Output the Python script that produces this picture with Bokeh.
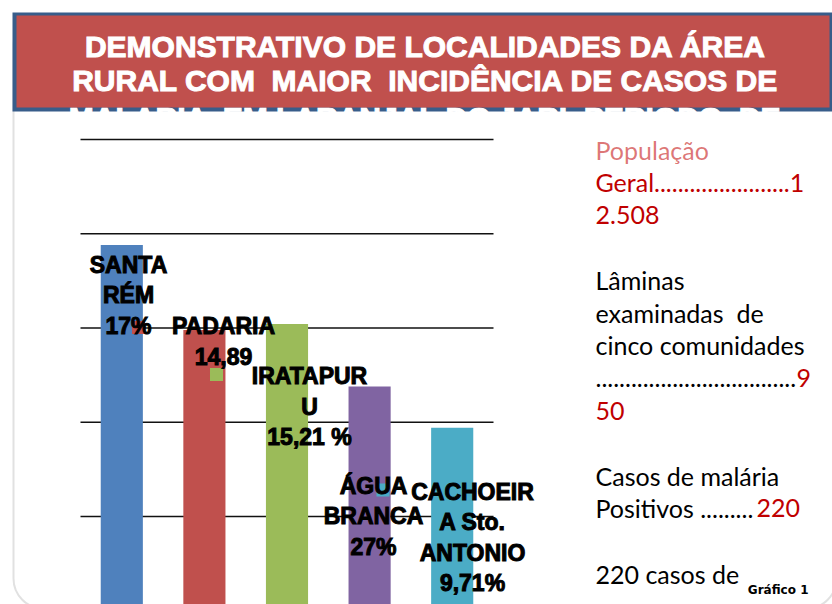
from bokeh.plotting import figure
from bokeh.models import Range1d, BoxAnnotation, ColumnDataSource
from bokeh.core.properties import value
from bokeh.embed import file_html
from bokeh.resources import INLINE

# ---------------- data ----------------
localidades = ["SANTARÉM", "PADARIA", "IRATAPURU", "ÁGUA BRANCA", "CACHOEIRA Sto. ANTONIO"]
percentuais = [19.4, 14.89, 15.21, 11.9, 9.71]
rotulos = [
    ["SANTA", "RÉM", "17%"],
    ["PADARIA", "14,89"],
    ["IRATAPUR", "U", "15,21 %"],
    ["ÁGUA", "BRANCA", "27%"],
    ["CACHOEIR", "A Sto.", "ANTONIO", "9,71%"],
]
cores = ["#4f81bd", "#c0504d", "#9bbb59", "#8064a2", "#4bacc6"]
ticks = [5, 10, 15, 20, 25]
NB = "\u00a0"
titulo = [
    "DEMONSTRATIVO DE LOCALIDADES DA ÁREA",
    "RURAL COM " + NB + "MAIOR " + NB + "INCIDÊNCIA DE CASOS DE",
    "MALÁRIA " + NB + "EM LARANJAL DO JARI " + NB + "PERÍODO " + NB + "DE",
]
RED = "#c00000"
BLACK = "#000000"
painel = [
    [("População", "ghost")],
    [("Geral.......................1", RED)],
    [("2.508", RED)],
    [],
    [("Lâminas", BLACK)],
    [("examinadas " + NB + "de", BLACK)],
    [("cinco comunidades", BLACK)],
    [("..................................", BLACK), ("9", RED)],
    [("50", RED)],
    [],
    [("Casos de malária", BLACK)],
    [("Positivos .........", BLACK), ("220", RED)],
    [],
    [("220 casos de", BLACK)],
]
rodape = "Gráfico 1"

# ---------------- layout (pixels, page = canvas) ----------------
W, H = 832, 604
BAND = 82.6          # px per category
X0 = 121.3           # canvas px of first category centre
UNIT = 94.25 / 5     # px per percentage unit
BASE = 610.25        # canvas px (from top) of value 0


def X(px):
    return (px - X0) / BAND


def Y(py):
    return (BASE - py) / UNIT


def TY(py, size):
    # text baseline compensation
    return Y(py - 0.33 * size)


p = figure(width=W, height=H, output_backend="svg", toolbar_location=None,
           x_range=Range1d(-X0 / BAND, (W - X0) / BAND),
           y_range=Range1d((BASE - H) / UNIT, BASE / UNIT),
           x_axis_location=None, y_axis_location=None, min_border=0)
p.grid.visible = False
p.outline_line_color = None
p.background_fill_color = "white"
p.border_fill_color = "white"

# slide frame (rounded rectangle, under everything)
frame = BoxAnnotation(left=X(13), right=X(836), top=Y(14), bottom=Y(608),
                      fill_color=None, line_color="#9a9a9a", line_width=2,
                      border_radius=30, level="underlay")
p.add_layout(frame)

# title box: blue border, hidden third line, red fill, visible lines
TS = 30
p.quad(left=[X(12)], right=[X(834)], top=[Y(12)], bottom=[Y(111)],
       fill_color="#385d8a", line_color=None)
TX = 425
title_font = value("Liberation Sans")
p.text(x=[X(TX)], y=[TY(127, TS)], text=[titulo[2]], text_color="white",
       text_outline_color="white",
       text_font=title_font, text_font_style="bold", text_font_size=f"{TS}px",
       text_align="center", text_baseline="alphabetic")
p.quad(left=[X(16)], right=[X(829)], top=[Y(15)], bottom=[Y(107)],
       fill_color="#c0504d", line_color=None)
p.text(x=[X(TX), X(TX)], y=[TY(55.5, TS), TY(89.5, TS)], text=titulo[:2], text_color="white",
       text_outline_color="white",
       text_font=title_font, text_font_style="bold", text_font_size=f"{TS}px",
       text_align="center", text_baseline="alphabetic")

# gridlines
n = len(localidades)
p.segment(x0=[-0.5] * len(ticks), x1=[n - 0.5] * len(ticks), y0=ticks, y1=ticks,
          line_color="#111111", line_width=1.6)

# bars
src = ColumnDataSource(dict(x=list(range(n)), top=percentuais, color=cores, nome=localidades))
p.vbar(x="x", top="top", bottom=0, width=0.51, fill_color="color", line_color=None, source=src)

# legend keys inside data labels (key colour index, page x, page y)
keys = [(1, 138, 327), (2, 216, 374), (4, 382.5, 489.5)]
p.rect(x=[X(k[1]) for k in keys], y=[Y(k[2]) for k in keys], width=13, height=13,
       width_units="screen", height_units="screen",
       fill_color=[cores[k[0]] for k in keys], line_color=None)

# data labels
LS = 23
LABEL_CX = [128, 223, 309, 373, 472]
LABEL_Y0 = [272, 333, 383.5, 493, 499]
STEP = 30.3
lx, ly, lt = [], [], []
for i, lines in enumerate(rotulos):
    for j, t in enumerate(lines):
        lx.append(X(LABEL_CX[i]))
        ly.append(TY(LABEL_Y0[i] + j * STEP, LS))
        lt.append(t)
p.text(x=lx, y=ly, text=lt, text_color="black", text_outline_color="black",
       text_font=value("Liberation Sans"),
       text_font_style="bold", text_font_size=f"{LS}px", text_align="center",
       text_baseline="alphabetic")

# right-hand panel
PS = 25
PX = 595
SECOND_X = {7: 796, 11: 756}
PY0, PSTEP = 157.5, 32.6
for i, segs in enumerate(painel):
    for k, (t, c) in enumerate(segs):
        xx = PX if k == 0 else SECOND_X[i]
        alpha = 1.0
        col = c
        if c == "ghost":
            col, alpha = RED, 0.55
        p.text(x=[X(xx)], y=[TY(PY0 + i * PSTEP, PS)], text=[t], text_color=col,
               text_alpha=alpha, text_font=value("Lato"), text_font_size=f"{PS}px",
               text_align="left", text_baseline="alphabetic")

FS = 12
p.text(x=[X(808)], y=[TY(593, FS)], text=[rodape], text_color="black",
       text_font=value("DejaVu Sans"), text_font_style="bold", text_font_size=f"{FS}px",
       text_align="right", text_baseline="alphabetic")

open("out.html", "w").write(file_html(p, INLINE))
